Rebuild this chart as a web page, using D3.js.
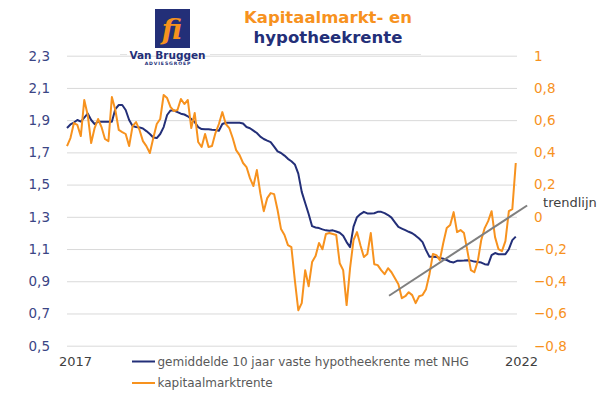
<!DOCTYPE html>
<html>
<head>
<meta charset="utf-8">
<script src="https://cdn.jsdelivr.net/npm/d3@7"></script>
<style>
  body { margin: 0; background: #fff; }
  svg { display: block; font-family: "DejaVu Sans", Verdana, sans-serif; }
</style>
</head>
<body>
<svg id="chart" width="605" height="399"></svg>
<script>
// two-weekly observations, Jan 2017 - Dec 2021
const startDate = new Date(2017, 0, 2);
const endDate = new Date(2022, 0, 1);
const dates = d3.range(131).map(i => d3.timeDay.offset(startDate, i * 14));

const yearLabels = ['2017', '2022'];
const yearDates = [startDate, endDate];

const leftTicks = [0.5, 0.7, 0.9, 1.1, 1.3, 1.5, 1.7, 1.9, 2.1, 2.3];
const rightTicks = [-0.8, -0.6, -0.4, -0.2, 0, 0.2, 0.4, 0.6, 0.8, 1];

// gemiddelde 10 jaar vaste hypotheekrente met NHG (left axis)
const hypotheekrente = [
  1.851, 1.873, 1.885, 1.901, 1.891, 1.916, 1.941, 1.901, 1.876, 1.890,
  1.890, 1.890, 1.890, 1.890, 1.969, 1.994, 1.994, 1.963, 1.901, 1.863,
  1.857, 1.855, 1.848, 1.832, 1.814, 1.792, 1.789, 1.814, 1.857, 1.932,
  1.960, 1.960, 1.950, 1.940, 1.935, 1.924, 1.907, 1.888, 1.857, 1.845,
  1.843, 1.843, 1.840, 1.839, 1.834, 1.876, 1.884, 1.884, 1.884, 1.884,
  1.884, 1.879, 1.857, 1.850, 1.835, 1.820, 1.798, 1.783, 1.773, 1.764,
  1.736, 1.706, 1.696, 1.680, 1.660, 1.645, 1.625, 1.568, 1.455, 1.386,
  1.317, 1.242, 1.234, 1.230, 1.222, 1.216, 1.213, 1.216, 1.209, 1.201,
  1.182, 1.143, 1.112, 1.239, 1.298, 1.317, 1.331, 1.321, 1.321, 1.322,
  1.331, 1.331, 1.323, 1.311, 1.295, 1.266, 1.237, 1.227, 1.217, 1.207,
  1.198, 1.183, 1.165, 1.143, 1.093, 1.052, 1.052, 1.051, 1.045, 1.040,
  1.032, 1.021, 1.017, 1.027, 1.028, 1.029, 1.031, 1.028, 1.022, 1.019,
  1.016, 1.006, 1.003, 1.062, 1.075, 1.068, 1.068, 1.068, 1.099, 1.155,
  1.177
];

// kapitaalmarktrente (right axis)
const kapitaalmarktrente = [
  0.439, 0.489, 0.582, 0.570, 0.501, 0.725, 0.632, 0.458, 0.551, 0.607,
  0.557, 0.483, 0.470, 0.743, 0.663, 0.539, 0.526, 0.514, 0.439, 0.563,
  0.588, 0.539, 0.470, 0.439, 0.396, 0.489, 0.576, 0.607, 0.756, 0.737,
  0.681, 0.657, 0.663, 0.731, 0.700, 0.725, 0.551, 0.644, 0.464, 0.433,
  0.514, 0.433, 0.439, 0.520, 0.576, 0.650, 0.576, 0.551, 0.489, 0.414,
  0.383, 0.334, 0.309, 0.240, 0.191, 0.290, 0.147, 0.035, 0.116, 0.147,
  0.141, 0.042, -0.076, -0.113, -0.176, -0.188, -0.393, -0.580, -0.536, -0.331,
  -0.431, -0.281, -0.244, -0.163, -0.201, -0.107, -0.101, -0.107, -0.113, -0.288,
  -0.331, -0.548, -0.319, -0.144, -0.095, -0.176, -0.250, -0.231, -0.101, -0.294,
  -0.300, -0.331, -0.356, -0.319, -0.344, -0.381, -0.418, -0.505, -0.493, -0.468,
  -0.486, -0.536, -0.493, -0.486, -0.449, -0.356, -0.231, -0.238, -0.269, -0.163,
  -0.070, -0.051, 0.029, -0.095, -0.082, -0.101, -0.213, -0.331, -0.344, -0.275,
  -0.144, -0.070, -0.027, 0.035, -0.126, -0.201, -0.213, -0.151, 0.035, 0.048,
  0.334
];

// trendlijn (right axis)
const trendDates = [new Date(2020, 6, 31), new Date(2022, 1, 11)];
const trendValues = [-0.49, 0.07];

const navy = '#232f78';
const orange = '#f7921e';

const svg = d3.select('#chart');

const margin = { top: 55.7, right: 88, bottom: 53.3, left: 67 };
const width = 605, height = 399;

const x = d3.scaleTime()
  .domain([startDate, endDate])
  .range([margin.left, width - margin.right]);

const yLeft = d3.scaleLinear()
  .domain([0.5, 2.3])
  .range([height - margin.bottom, margin.top]);

const yRight = d3.scaleLinear()
  .domain([-0.8, 1])
  .range([height - margin.bottom, margin.top]);

const fmt = d => d3.format('.1f')(d).replace('.', ',').replace(/^0,0$/, '0').replace(/^1,0$/, '1');

// Grid lines
svg.append('g')
  .attr('transform', `translate(${margin.left},0)`)
  .call(d3.axisLeft(yLeft).tickValues(leftTicks).tickSize(-(width - margin.left - margin.right)).tickFormat(''))
  .call(g => g.select('.domain').remove())
  .call(g => g.selectAll('line').attr('stroke', '#d9d9d9').attr('stroke-width', 1));

// Left axis labels
svg.append('g')
  .attr('transform', `translate(${margin.left - 14},0)`)
  .call(d3.axisLeft(yLeft).tickValues(leftTicks).tickSize(0).tickFormat(fmt))
  .call(g => g.select('.domain').remove())
  .selectAll('text')
  .attr('fill', '#3b4585')
  .attr('font-size', '13.5px')
  .attr('font-family', '"DejaVu Sans", Verdana, sans-serif');

// Right axis labels
svg.append('g')
  .attr('transform', `translate(${width - margin.right + 14},0)`)
  .call(d3.axisRight(yRight).tickValues(rightTicks).tickSize(0).tickFormat(fmt))
  .call(g => g.select('.domain').remove())
  .selectAll('text')
  .attr('fill', orange)
  .attr('font-size', '13.5px')
  .attr('font-family', '"DejaVu Sans", Verdana, sans-serif');

// X axis labels (only first and last year)
svg.append('g')
  .attr('transform', `translate(0,${height - margin.bottom + 8})`)
  .call(d3.axisBottom(x).tickValues(yearDates).tickSize(0).tickFormat((d, i) => yearLabels[i]))
  .call(g => g.select('.domain').remove())
  .selectAll('text')
  .attr('fill', '#404040')
  .attr('font-size', '13px')
  .attr('font-family', '"DejaVu Sans", Verdana, sans-serif')
  .attr('dx', (d, i) => i === 0 ? 8 : 4);

// Lines
const navyLine = d3.line()
  .x((d, i) => x(dates[i]))
  .y(d => yLeft(d));

const orangeLine = d3.line()
  .x((d, i) => x(dates[i]))
  .y(d => yRight(d));

svg.append('path')
  .datum(hypotheekrente)
  .attr('fill', 'none')
  .attr('stroke', navy)
  .attr('stroke-width', 2)
  .attr('stroke-linejoin', 'round')
  .attr('d', navyLine);

svg.append('path')
  .datum(kapitaalmarktrente)
  .attr('fill', 'none')
  .attr('stroke', orange)
  .attr('stroke-width', 2)
  .attr('stroke-linejoin', 'round')
  .attr('d', orangeLine);

// Trend line
svg.append('path')
  .datum(trendValues)
  .attr('fill', 'none')
  .attr('stroke', '#7f7f7f')
  .attr('stroke-width', 2)
  .attr('d', d3.line().x((d, i) => x(trendDates[i])).y(d => yRight(d)));

svg.append('text')
  .attr('x', x(trendDates[1]) + 16)
  .attr('y', yRight(trendValues[1]) + 1)
  .attr('fill', '#404040')
  .attr('font-size', '13px')
  .text('trendlijn');

// Legend
const legend = [
  { label: 'gemiddelde 10 jaar vaste hypotheekrente met NHG', color: navy },
  { label: 'kapitaalmarktrente', color: orange }
];
const lg = svg.append('g').attr('transform', 'translate(132,361.5)');
legend.forEach((d, i) => {
  const row = lg.append('g').attr('transform', `translate(0,${i * 21.5})`);
  row.append('line')
    .attr('x1', 0).attr('x2', 23)
    .attr('stroke', d.color).attr('stroke-width', 2);
  row.append('text')
    .attr('x', 25.5).attr('dy', '0.35em')
    .attr('fill', '#595959')
    .attr('font-size', '12px')
    .text(d.label);
});

// Title
const title = svg.append('text')
  .attr('text-anchor', 'middle')
  .attr('font-weight', 'bold')
  .attr('font-size', '16.5px');
title.append('tspan').attr('x', 328).attr('y', 23).attr('fill', orange).text('Kapitaalmarkt- en');
title.append('tspan').attr('x', 328).attr('y', 42.5).attr('fill', navy).text('hypotheekrente');

// Logo
svg.append('line').attr('x1', 120).attr('x2', 127).attr('y1', 54.5).attr('y2', 54.5)
  .attr('stroke', '#e3e3e3').attr('stroke-width', 1);
svg.append('line').attr('x1', 210).attr('x2', 421).attr('y1', 54.5).attr('y2', 54.5)
  .attr('stroke', '#e3e3e3').attr('stroke-width', 1);
svg.append('rect')
  .attr('x', 155).attr('y', 9).attr('width', 35).attr('height', 39)
  .attr('fill', navy);
svg.append('text')
  .attr('x', 172).attr('y', 39)
  .attr('text-anchor', 'middle')
  .attr('font-family', '"DejaVu Serif", serif')
  .attr('font-style', 'italic')
  .attr('font-weight', 'bold')
  .attr('font-size', '28px')
  .attr('fill', orange)
  .text('fi');
svg.append('text')
  .attr('x', 167.5).attr('y', 58.5)
  .attr('text-anchor', 'middle')
  .attr('font-weight', 'bold')
  .attr('font-size', '10.5px')
  .attr('fill', navy)
  .text('Van Bruggen');
svg.append('text')
  .attr('x', 168).attr('y', 65)
  .attr('text-anchor', 'middle')
  .attr('font-weight', 'bold')
  .attr('font-size', '4.6px')
  .attr('letter-spacing', '0.9px')
  .attr('fill', navy)
  .text('ADVIESGROEP');
</script>
</body>
</html>
